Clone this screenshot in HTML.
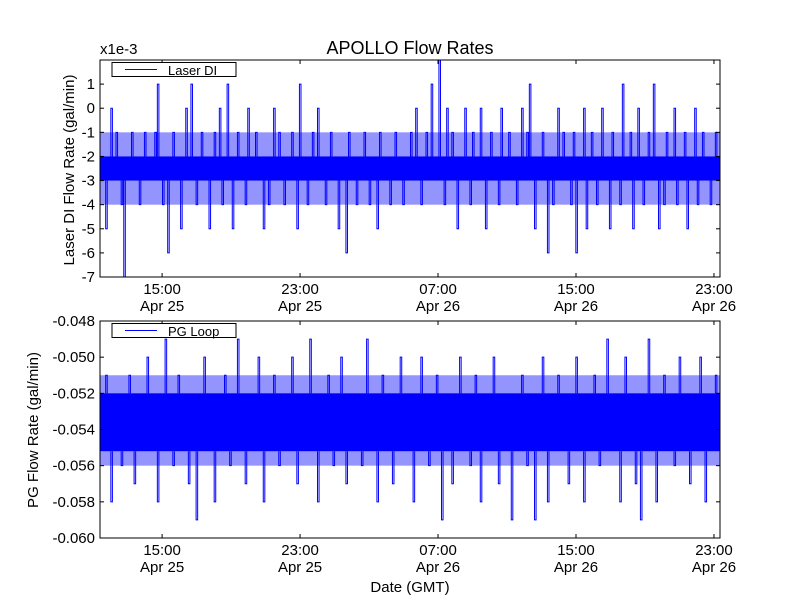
<!DOCTYPE html>
<html><head><meta charset="utf-8"><style>
body{margin:0;background:#fff;}
svg{display:block;font-family:"Liberation Sans","DejaVu Sans",sans-serif;}
</style></head><body>
<svg id="chart" width="800" height="600" viewBox="0 0 800 600">
<rect x="0" y="0" width="800" height="600" fill="#fff"/>
<text x="410" y="54" font-size="18" text-anchor="middle">APOLLO Flow Rates</text>
<text x="100" y="54" font-size="15">x1e-3</text>
<g id="top"></g>
<g id="bottom"></g>
<text x="410" y="592" font-size="15" text-anchor="middle">Date (GMT)</text>
<text transform="translate(74,170) rotate(-90)" font-size="15" text-anchor="middle">Laser DI Flow Rate (gal/min)</text>
<text transform="translate(38,430) rotate(-90)" font-size="15" text-anchor="middle">PG Flow Rate (gal/min)</text>
</svg>
<script>
// Time axis in hours since Apr 25 00:00 GMT
const xStartHours = 11.4;
const xEndHours = 47.35;
const xTickHours = [15, 23, 31, 39, 47];
const xTickTimes = ["15:00", "23:00", "07:00", "15:00", "23:00"];
const xTickDates = ["Apr 25", "Apr 25", "Apr 26", "Apr 26", "Apr 26"];

const laserTicks = [-7, -6, -5, -4, -3, -2, -1, 0, 1];
const laserTickLabels = ["-7", "-6", "-5", "-4", "-3", "-2", "-1", "0", "1"];
// range the dense signal toggles within almost constantly (1e-3 gal/min)
const laserBand = [-3, -2];
// range of frequent one-step excursions
const laserOuterBand = [-4, -1];
// excursion reached in each time bin (1e-3 gal/min)
const laserValues = [
-2,-3,-5,-2,0,-3,-1,-2,-4,-7,-2,-3,-1,-2,-3,-4,-2,-1,-3,-2,
-3,-1,1,-2,-4,-3,-6,-2,-1,-3,-2,-5,-3,0,-2,1,-3,-4,-2,-1,
-2,-3,-5,-2,-1,-3,0,-4,-2,1,-3,-5,-2,-1,-3,-2,-4,0,-3,-2,
-1,-3,-2,-5,-2,-4,-3,0,-2,-1,-3,-4,-2,-3,-1,-2,-5,1,-3,-2,
-4,-2,-1,-3,0,-2,-3,-4,-2,-1,-3,-2,-5,-3,-2,-6,-1,-3,-2,-4,
-2,-3,-1,-2,-4,-3,-2,-5,-1,-3,-2,-3,-4,-2,-1,-3,-2,-4,-3,-2,
-1,-3,0,-2,-4,-3,-1,-2,1,-3,-2,2,-3,-4,0,-2,-1,-3,-5,-2,
-3,0,-2,-4,-1,-3,-2,0,-3,-5,-2,-1,-3,-2,-4,0,-3,-2,-1,-3,
-2,-4,-3,0,-2,-1,1,-3,-5,-2,-3,-1,-2,-6,-3,-4,-2,0,-3,-1,
-2,-3,-4,-1,-6,-2,-3,0,-5,-2,-1,-3,-4,-2,0,-3,-2,-5,-1,-3,
-2,-4,1,-3,-2,-1,-5,-3,0,-2,-4,-3,-1,-2,1,-3,-5,-2,-4,-1,
-3,-2,0,-4,-2,-3,-1,-5,-2,-3,0,-4,-2,-1,-3,-2,-4,-3,-1,-2];

const pgTicks = [-0.060, -0.058, -0.056, -0.054, -0.052, -0.050, -0.048];
const pgTickLabels = ["-0.060", "-0.058", "-0.056", "-0.054", "-0.052", "-0.050", "-0.048"];
const pgBand = [-0.0552, -0.052];
const pgOuterBand = [-0.056, -0.051];
const pgValues = [
-.053,-.055,-.051,-.054,-.058,-.052,-.055,-.053,-.056,-.052,-.054,-.051,-.055,-.057,-.052,-.054,-.053,-.055,-.050,-.052,
-.055,-.053,-.058,-.052,-.054,-.049,-.055,-.052,-.056,-.053,-.051,-.055,-.054,-.052,-.057,-.053,-.055,-.059,-.052,-.054,
-.050,-.055,-.053,-.052,-.058,-.054,-.052,-.055,-.051,-.053,-.056,-.052,-.054,-.049,-.055,-.052,-.057,-.053,-.054,-.052,
-.055,-.050,-.053,-.058,-.052,-.055,-.054,-.051,-.053,-.056,-.052,-.054,-.055,-.052,-.050,-.053,-.057,-.055,-.052,-.054,
-.053,-.049,-.055,-.052,-.058,-.054,-.052,-.055,-.051,-.053,-.056,-.052,-.055,-.050,-.053,-.057,-.054,-.052,-.055,-.053,
-.052,-.056,-.054,-.049,-.055,-.052,-.053,-.058,-.055,-.051,-.053,-.054,-.052,-.057,-.055,-.053,-.050,-.052,-.054,-.055,
-.053,-.058,-.052,-.055,-.050,-.054,-.053,-.056,-.052,-.055,-.051,-.054,-.059,-.052,-.053,-.055,-.057,-.052,-.054,-.050,
-.055,-.053,-.052,-.056,-.054,-.051,-.055,-.058,-.052,-.054,-.053,-.055,-.050,-.052,-.057,-.054,-.053,-.055,-.052,-.059,
-.054,-.052,-.055,-.051,-.053,-.056,-.052,-.054,-.059,-.055,-.052,-.050,-.053,-.058,-.055,-.052,-.054,-.051,-.055,-.053,
-.052,-.057,-.054,-.055,-.050,-.052,-.053,-.058,-.055,-.052,-.054,-.051,-.053,-.056,-.055,-.052,-.049,-.054,-.053,-.055,
-.052,-.058,-.054,-.050,-.055,-.053,-.052,-.057,-.055,-.059,-.052,-.054,-.049,-.055,-.053,-.058,-.052,-.054,-.051,-.055,
-.053,-.052,-.056,-.054,-.050,-.055,-.052,-.053,-.057,-.054,-.052,-.055,-.050,-.053,-.058,-.052,-.054,-.055,-.051,-.053];

const NS = "http://www.w3.org/2000/svg";
function mk(parent, tag, attrs) {
  const e = document.createElementNS(NS, tag);
  for (const k in attrs) e.setAttribute(k, attrs[k]);
  parent.appendChild(e);
  return e;
}

function drawPanel(g, top, bottom, yMin, yMax, yTicks, yLabels, values, band, outer, legend, prefix) {
  const L = 100, R = 720;
  const xs = h => L + (h - xStartHours) / (xEndHours - xStartHours) * (R - L);
  const ys = v => bottom - (v - yMin) / (yMax - yMin) * (bottom - top);
  const clipId = prefix + "-clip";
  const cp = mk(g, "clipPath", {id: clipId});
  mk(cp, "rect", {x: L, y: top, width: R - L, height: bottom - top});
  const sg = mk(g, "g", {"clip-path": "url(#" + clipId + ")"});
  
  
  // frequent one-step excursions (hatched look)
  const outerRect = mk(sg, "rect", {x: L, y: ys(outer[1]), width: R - L, height: ys(outer[0]) - ys(outer[1]), fill: "#0000ff", "fill-opacity": 0.42});
  
  
  // dense band of rapid toggling
  const bandRect = mk(sg, "rect", {x: L, y: ys(band[1]), width: R - L, height: ys(band[0]) - ys(band[1]), fill: "#0000ff"});
  
  
  // excursions per bin
  const n = values.length;
  let d = "";
  values.forEach((v, i) => {
    const x0 = xs(xStartHours + (i + 0.2) / n * (xEndHours - xStartHours));
    const x1 = xs(xStartHours + (i + 0.8) / n * (xEndHours - xStartHours));
    const yv = ys(v).toFixed(2);
    const yb = (v >= band[1] ? ys(band[1]) : ys(band[0])).toFixed(2);
    if (v > band[1] || v < band[0]) {
      d += "M" + x0.toFixed(2) + " " + yb + "V" + yv + "H" + x1.toFixed(2) + "V" + yb;
    }
  });
  const line = mk(sg, "path", {d: d, fill: "none", stroke: "#0000ff", "stroke-width": 1});
  
  
  // frame
  const frame = mk(g, "rect", {x: L, y: top, width: R - L, height: bottom - top, fill: "none", stroke: "#000", "stroke-width": 1});
  
  
  // y ticks
  yTicks.forEach((t, i) => {
    const y = ys(t);
    mk(g, "line", {x1: L, x2: L + 4, y1: y, y2: y, stroke: "#000"});
    mk(g, "line", {x1: R - 4, x2: R, y1: y, y2: y, stroke: "#000"});
    const tx = mk(g, "text", {x: L - 5, y: y + 5, "font-size": 15, "text-anchor": "end"});
    tx.textContent = yLabels[i];
    
    
  });
  // x ticks
  xTickHours.forEach((h, i) => {
    const x = xs(h);
    mk(g, "line", {x1: x, x2: x, y1: bottom, y2: bottom - 4, stroke: "#000"});
    mk(g, "line", {x1: x, x2: x, y1: top, y2: top + 4, stroke: "#000"});
    const t1 = mk(g, "text", {x: x, y: bottom + 17, "font-size": 15, "text-anchor": "middle"});
    t1.textContent = xTickTimes[i];
    
    
    const t2 = mk(g, "text", {x: x, y: bottom + 34, "font-size": 15, "text-anchor": "middle"});
    t2.textContent = xTickDates[i];
    
    
  });
  // legend
  const lg = mk(g, "g", {});
  
  
  mk(lg, "rect", {x: 112, y: top + 2.5, width: 124, height: 14, fill: "#fff", stroke: "#000", "stroke-width": 1});
  mk(lg, "line", {x1: 125, x2: 157, y1: top + 9.5, y2: top + 9.5, stroke: "#0000ff", "stroke-width": 1});
  const lt = mk(lg, "text", {x: 168, y: top + 15, "font-size": 13});
  lt.textContent = legend;
}

drawPanel(document.getElementById("top"), 60, 277, -7, 2, laserTicks, laserTickLabels, laserValues, laserBand, laserOuterBand, "Laser DI", "laser");
drawPanel(document.getElementById("bottom"), 321, 538, -0.060, -0.048, pgTicks, pgTickLabels, pgValues, pgBand, pgOuterBand, "PG Loop", "pg");
</script>
</body></html>
